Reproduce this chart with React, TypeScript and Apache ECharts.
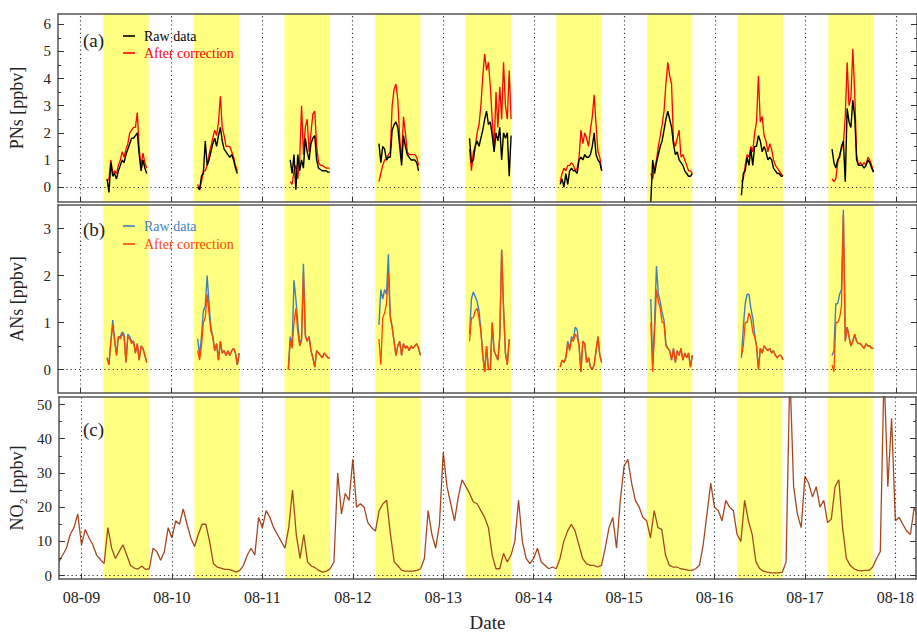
import React, { useEffect, useRef } from "react";
import * as echarts from "echarts";

// ---------- x axis (hours since 08-09 00:00) ----------
const dayLabels = ["08-09", "08-10", "08-11", "08-12", "08-13", "08-14", "08-15", "08-16", "08-17", "08-18"];
const dayTicks = dayLabels.map((_, i) => i * 24);
const xMinHour = -6;
const xMaxHour = 221.5;
const daytimeDays = 9; // 08-09 .. 08-17
const daytimeStart = 6;
const daytimeEnd = 18;

// ---------- NO2 hourly, starting 08-08 18:00 (hour -6) ----------
const no2StartHour = -6;
const no2Eve0808 = [4, 6, 8, 12, 14, 18];
const no2_0809 = [9, 13.5, 11, 9, 6, 4.7, 3.5, 14, 8, 5, 7, 9, 6, 3, 2.2, 1.9, 2.8, 1.8, 2, 8, 7, 4.5, 7, 14];
const no2_0810 = [11, 16, 15, 19.5, 15, 11, 8.5, 12, 15, 15, 10, 3.5, 2.5, 2.2, 1.8, 1.8, 1.5, 1.0, 1.5, 3, 6, 8, 6, 17];
const no2_0811 = [14, 19, 17, 14, 12, 10, 8, 14, 25, 12, 5, 12, 4, 2.8, 2.3, 1.5, 1.0, 1.3, 2, 4, 30, 18, 24, 22];
const no2_0812 = [34, 20, 21, 20, 15.5, 14, 13, 19, 21, 22, 12, 4, 2.8, 1.5, 1.3, 1.3, 1.3, 1.5, 2, 5, 19, 12, 8, 15];
const no2_0813 = [36, 26, 21, 16, 23, 28, 26, 24, 21.5, 21, 19, 17, 14, 6, 2, 2, 6.5, 4, 6, 10, 22, 10, 5, 3.5];
const no2_0814 = [5, 8, 4, 3, 2, 2.5, 2, 5, 10, 13, 15, 13, 9, 5, 3.5, 3, 3, 2.5, 3, 8, 14, 17, 8, 22];
const no2_0815 = [32, 34, 27, 22, 20, 17, 16, 11, 19, 14, 13.5, 6, 3, 2.5, 2.5, 2.0, 1.8, 1.6, 1.5, 2, 3, 9, 18, 27];
const no2_0816 = [20, 19, 16, 22, 20, 19, 12, 10, 22, 16, 12, 4, 2, 1.3, 1, 0.8, 0.8, 0.8, 1, 4, 60, 26, 18, 14];
const no2_0817 = [29, 27, 23, 26, 20, 22, 15.5, 16.5, 26, 28, 14, 5, 3, 2, 1.5, 1.4, 1.5, 1.5, 2.5, 5, 7, 60, 26, 46];
const no2_0818 = [16, 17, 15, 13, 12, 20, 17];

// ---------- PNs (30-min steps during daytime) ----------
const pnsStartHour = [7, 7, 7.5, 7, 7, 7, 7, 7, 7];
const pnsRaw = [
  [0.3, -0.2, 0.9, 0.4, 0.5, 0.3, 0.6, 0.8, 1.0, 0.9, 1.2, 1.4, 1.6, 1.8, 1.8, 1.9, 2.0, 1.2, 0.6, 1.0, 0.7, 0.5],
  [0.0, -0.1, 0.4, 0.5, 1.7, 0.8, 1.0, 1.3, 1.6, 1.8, 1.5, 1.9, 2.2, 1.7, 1.4, 1.3, 1.2, 1.1, 1.2, 1.0, 0.7, 0.5],
  [1.0, 0.5, 1.2, -0.1, 1.2, 0.6, 1.0, 0.7, 1.8, 1.3, 1.0, 1.6, 1.8, 1.9, 1.0, 0.7, 0.65, 0.6, 0.6, 0.6, 0.55, 0.55],
  [1.6, 0.9, 1.5, 1.4, 1.0, 1.1, 1.1, 2.1, 2.3, 2.4, 2.2, 1.5, 0.8, 1.9, 1.5, 1.2, 1.1, 1.0, 1.0, 1.0, 0.9, 0.6],
  [1.8, 0.9, 1.0, 1.5, 1.7, 1.5, 1.8, 2.1, 2.5, 2.8, 2.3, 2.4, 1.9, 1.3, 2.0, 1.7, 2.2, 1.0, 2.0, 1.8, 2.0, 0.4, 1.9],
  [0.1, 0.3, 0.0, 0.5, 0.1, 0.6, 0.7, 0.6, 0.6, 0.5, 1.0, 1.1, 1.0, 1.2, 1.1, 1.1, 1.2, 1.5, 2.0, 1.2, 1.0, 0.9, 0.6],
  [-0.55, 1.0, 0.5, 0.9, 1.2, 1.5, 1.7, 2.1, 2.5, 2.8, 2.5, 2.2, 1.6, 1.2, 1.3, 1.0, 0.9, 0.8, 0.6, 0.5, 0.4, 0.4, 0.5],
  [-0.3, 0.5, 0.6, 1.1, 0.8, 1.4, 0.8, 1.5, 1.5, 1.9, 1.7, 1.3, 1.5, 1.3, 1.0, 1.1, 1.0, 0.7, 0.6, 0.5, 0.5, 0.4, 0.4],
  [1.4, 0.9, 0.7, 1.0, 1.1, 1.5, 1.7, 0.2, 2.9, 2.4, 2.2, 3.2, 2.6, 1.0, 0.8, 0.8, 0.8, 0.7, 0.8, 1.0, 0.9, 0.7, 0.55],
];
const pnsCorr = [
  [0.2, 0.3, 1.0, 0.5, 0.6, 0.5, 0.8, 1.0, 1.3, 1.1, 1.4, 1.6, 2.0, 2.1, 2.2, 2.2, 2.75, 1.4, 0.8, 1.25, 0.9, 0.7],
  [0.1, -0.1, 0.2, 0.6, 0.6, 0.8, 1.2, 1.5, 1.8, 2.1, 1.9, 2.4, 3.35, 2.2, 1.9, 1.5, 1.5, 1.5, 1.3, 1.1, 0.8, 0.6],
  [0.2, 0.1, 0.6, 0.8, 0.3, 1.0, 3.0, 1.2, 2.2, 2.5, 1.3, 2.0, 2.7, 2.8, 1.5, 0.9, 0.8, 0.8, 0.75, 0.7, 0.7, 0.7],
  [0.2, 0.5, 0.8, 1.0, 1.0, 1.2, 1.3, 3.0, 3.6, 3.8, 3.2, 1.8, 1.0, 2.6, 2.0, 1.3, 1.2, 1.2, 1.2, 1.2, 1.1, 0.8],
  [1.4, 0.6, 1.3, 1.5, 2.0, 2.3, 3.0, 4.1, 4.9, 4.3, 4.6, 3.7, 2.5, 1.4, 3.5, 2.2, 3.7, 2.5, 4.6, 3.0, 2.5, 4.3, 2.5],
  [0.2, 0.5, 0.7, 0.6, 0.8, 0.8, 0.9, 0.8, 0.6, 0.7, 1.1, 2.1, 1.6, 2.0, 1.8, 1.5, 2.1, 2.6, 3.4, 2.3, 1.3, 1.1, 0.6],
  [0.5, 0.3, 0.7, 1.0, 1.5, 1.9, 2.3, 2.8, 3.8, 4.6, 4.1, 3.8, 1.7, 1.5, 1.8, 2.1, 1.1, 1.2, 1.0, 0.8, 0.6, 0.6, 0.5],
  [0.2, 0.3, 0.8, 1.2, 1.1, 1.5, 1.3, 2.0, 2.4, 4.1, 2.4, 2.6, 1.9, 1.7, 1.3, 1.6, 1.4, 1.0, 0.8, 0.7, 0.6, 0.5, 0.4],
  [0.3, 0.2, 0.3, 0.9, 1.2, 1.4, 1.6, 2.6, 4.6, 3.0, 3.3, 5.1, 3.5, 1.2, 0.8, 0.9, 0.8, 0.9, 0.8, 1.1, 1.0, 0.8, 0.55],
];

// ---------- ANs (30-min steps during daytime) ----------
const ansStartHour = [7, 7, 7, 7, 7, 7, 7, 7, 7];
const ansRaw = [
  [0.25, 0.1, 0.6, 1.05, 0.65, 0.3, 0.7, 0.7, 0.8, 0.75, 0.15, 0.75, 0.7, 0.6, 0.6, 0.35, 0.55, 0.2, 0.5, 0.45, 0.3, 0.15],
  [0.65, 0.3, 0.7, 1.25, 1.35, 2.0, 1.4, 0.9, 0.7, 0.4, 0.55, 0.2, 0.6, 0.35, 0.4, 0.3, 0.4, 0.3, 0.4, 0.45, 0.35, 0.1, 0.35],
  [0.0, 0.7, 0.5, 1.9, 1.5, 1.0, 0.55, 0.65, 2.25, 0.75, 0.6, 0.7, 0.4, 0.25, 0.05, 0.4, 0.35, 0.3, 0.25, 0.35, 0.3, 0.25, 0.25],
  [0.95, 1.7, 1.5, 1.7, 1.6, 2.45, 1.15, 0.9, 0.6, 0.3, 0.5, 0.6, 0.3, 0.55, 0.45, 0.5, 0.4, 0.5, 0.45, 0.5, 0.55, 0.45, 0.3],
  [0.75, 1.5, 1.65, 1.55, 1.45, 1.25, 0.85, 0.3, -0.05, 0.5, 0.0, 0.0, 1.0, 0.4, 0.3, 0.2, 0.7, 2.55, 1.3, 0.35, 0.1, 0.65],
  [0.05, 0.2, 0.15, 0.25, 0.6, 0.45, 0.7, 0.65, 0.9, 0.85, 0.5, -0.05, 0.6, 0.55, 0.15, 0.25, 0.05, 0.0, 0.1, 0.4, 0.7, 0.3, 0.15],
  [1.5, 0.1, 1.0, 2.2, 1.6, 1.45, 1.2, 1.05, 0.55, 0.45, 0.4, 0.2, 0.45, 0.15, 0.4, 0.3, 0.45, 0.2, 0.35, 0.25, 0.35, 0.05, 0.3],
  [0.25, 0.9, 1.4, 1.6, 1.6, 1.3, 1.1, 0.75, 0.5, 0.0, 0.45, 0.35, 0.5, 0.45, 0.4, 0.45, 0.35, 0.4, 0.3, 0.25, 0.3, 0.3, 0.2],
  [0.3, 0.4, 1.4, 1.4, 1.6, 1.7, 3.4, 0.6, 0.9, 0.7, 0.5, 0.6, 0.75, 0.6, 0.55, 0.55, 0.5, 0.45, 0.55, 0.5, 0.5, 0.45, 0.45],
];
const ansCorr = [
  [0.25, 0.1, 0.6, 0.95, 0.6, 0.3, 0.7, 0.65, 0.75, 0.7, 0.15, 0.7, 0.65, 0.55, 0.6, 0.35, 0.55, 0.2, 0.5, 0.45, 0.3, 0.15],
  [0.4, 0.2, 0.5, 1.0, 1.1, 1.6, 1.2, 0.8, 0.7, 0.4, 0.55, 0.2, 0.6, 0.35, 0.4, 0.3, 0.4, 0.3, 0.4, 0.45, 0.35, 0.1, 0.35],
  [0.0, 0.6, 0.45, 1.0, 1.3, 0.8, 0.5, 0.6, 2.05, 0.7, 0.6, 0.7, 0.4, 0.25, 0.05, 0.4, 0.35, 0.3, 0.25, 0.35, 0.3, 0.25, 0.25],
  [0.65, 0.1, 1.1, 1.2, 1.4, 2.05, 1.1, 0.9, 0.6, 0.3, 0.5, 0.6, 0.3, 0.55, 0.45, 0.5, 0.4, 0.5, 0.45, 0.5, 0.55, 0.45, 0.3],
  [0.6, 1.1, 1.1, 1.25, 1.3, 1.1, 0.8, 0.3, -0.05, 0.5, 0.0, 0.0, 1.0, 0.4, 0.3, 0.2, 0.7, 2.55, 1.3, 0.35, 0.1, 0.65],
  [0.05, 0.2, 0.15, 0.25, 0.55, 0.4, 0.65, 0.6, 0.75, 0.7, 0.5, -0.05, 0.6, 0.55, 0.15, 0.25, 0.05, 0.0, 0.1, 0.4, 0.7, 0.3, 0.15],
  [1.0, -0.05, 0.8, 1.7, 1.45, 1.3, 1.0, 1.0, 0.5, 0.45, 0.4, 0.2, 0.45, 0.15, 0.4, 0.3, 0.45, 0.2, 0.35, 0.25, 0.35, 0.05, 0.3],
  [0.3, 0.5, 1.0, 1.0, 1.2, 1.1, 0.8, 0.7, 0.5, 0.0, 0.45, 0.35, 0.5, 0.45, 0.4, 0.45, 0.35, 0.4, 0.3, 0.25, 0.3, 0.3, 0.2],
  [0.1, -0.05, 1.0, 1.0, 1.1, 1.35, 3.3, 0.6, 0.9, 0.7, 0.5, 0.6, 0.75, 0.6, 0.55, 0.55, 0.5, 0.45, 0.55, 0.5, 0.5, 0.45, 0.45],
];
const halfHourStep = 0.5;

// ---------- y axes ----------
const pnsTicks = [0, 1, 2, 3, 4, 5, 6];
const pnsMinor = [0.5, 1.5, 2.5, 3.5, 4.5, 5.5];
const ansTicks = [0, 1, 2, 3];
const ansMinor = [0.5, 1.5, 2.5];
const no2Ticks = [0, 10, 20, 30, 40, 50];
const no2Minor = [5, 15, 25, 35, 45];

const FONT = '"Liberation Serif", "DejaVu Serif", serif';

function buildDaily(starts: number[], values: number[][]) {
  const out: any[] = [];
  values.forEach((arr, d) => {
    arr.forEach((v, i) => out.push([d * 24 + starts[d] + i * halfHourStep, v]));
    out.push([d * 24 + starts[d] + arr.length * halfHourStep, null]);
  });
  return out;
}

function buildNo2() {
  const all = [
    ...no2Eve0808, ...no2_0809, ...no2_0810, ...no2_0811, ...no2_0812,
    ...no2_0813, ...no2_0814, ...no2_0815, ...no2_0816, ...no2_0817, ...no2_0818,
  ];
  return all.map((v, i) => [no2StartHour + i, v]);
}

export default function App() {
  const ref = useRef<HTMLDivElement>(null);
  useEffect(() => {
    if (!ref.current) return;
    const chart = echarts.init(ref.current, null, { renderer: "svg" });

    const grids = [
      { left: 58, top: 14, width: 859, height: 188 },
      { left: 58, top: 205, width: 859, height: 188 },
      { left: 58, top: 397, width: 859, height: 186 },
    ];
    const yRanges = [
      { min: -0.55, max: 6.38, major: pnsTicks, minor: pnsMinor, name: "PNs [ppbv]" },
      { min: -0.5, max: 3.5, major: ansTicks, minor: ansMinor, name: "ANs [ppbv]" },
      { min: -1, max: 52.2, major: no2Ticks, minor: no2Minor, name: "NO\u2082 [ppbv]" },
    ];
    const frameLine = { color: "#555", width: 1.5 };

    const xAxis: any[] = [];
    const yAxis: any[] = [];
    grids.forEach((_, i) => {
      xAxis.push({
        type: "value", gridIndex: i, min: xMinHour, max: xMaxHour, position: "bottom", z: 10,
        axisLine: { show: true, onZero: false, lineStyle: frameLine },
        axisTick: { show: true, inside: true, length: 5, customValues: dayTicks, lineStyle: { color: "#333" } },
        axisLabel: {
          show: i === 2, customValues: dayTicks, margin: 10,
          formatter: (v: number) => dayLabels[Math.round(v / 24)] ?? "",
          fontSize: 16, color: "#222", fontFamily: FONT,
        },
        splitLine: { show: false },
        name: i === 2 ? "Date" : "", nameLocation: "middle", nameGap: 34,
        nameTextStyle: { fontSize: 19, color: "#222", fontFamily: FONT },
      });
      xAxis.push({
        type: "value", gridIndex: i, min: xMinHour, max: xMaxHour, position: "top", z: 10,
        axisLine: { show: true, onZero: false, lineStyle: frameLine },
        axisTick: { show: false }, axisLabel: { show: false }, splitLine: { show: false },
      });
    });
    yRanges.forEach((r, i) => {
      const base = { type: "value", gridIndex: i, min: r.min, max: r.max, z: 10, splitLine: { show: false } };
      yAxis.push({
        ...base, position: "left",
        axisLine: { show: true, onZero: false, lineStyle: frameLine },
        axisTick: { show: true, inside: true, length: 6, customValues: r.major, lineStyle: { color: "#333" } },
        axisLabel: { show: true, customValues: r.major, margin: 7, fontSize: 15, color: "#222", fontFamily: FONT },
        name: r.name, nameLocation: "middle", nameGap: 32,
        nameTextStyle: { fontSize: 18, color: "#222", fontFamily: FONT },
      });
      yAxis.push({
        ...base, position: "left",
        axisLine: { show: false, onZero: false },
        axisTick: { show: true, inside: true, length: 3, customValues: r.minor, lineStyle: { color: "#333" } },
        axisLabel: { show: false },
      });
      yAxis.push({
        ...base, position: "right",
        axisLine: { show: true, onZero: false, lineStyle: frameLine },
        axisTick: { show: true, inside: true, length: 6, customValues: r.major, lineStyle: { color: "#333" } },
        axisLabel: { show: false },
      });
      yAxis.push({
        ...base, position: "right",
        axisLine: { show: false, onZero: false },
        axisTick: { show: true, inside: true, length: 3, customValues: r.minor, lineStyle: { color: "#333" } },
        axisLabel: { show: false },
      });
    });

    const bands: any[] = [];
    for (let d = 0; d < daytimeDays; d++) {
      bands.push([{ xAxis: d * 24 + daytimeStart }, { xAxis: d * 24 + daytimeEnd }]);
    }
    const guideLines = [...dayTicks.map((t) => ({ xAxis: t })), { yAxis: 0 }];

    const series: any[] = [];
    grids.forEach((_, i) => {
      series.push({
        type: "line", xAxisIndex: i * 2, yAxisIndex: i * 4, data: [], z: 1, silent: true,
        markArea: { silent: true, itemStyle: { color: "#ffff80", opacity: 1 }, data: bands },
        markLine: {
          silent: true, symbol: "none", label: { show: false },
          lineStyle: { type: [1.2, 3], color: "#333", width: 1.1 },
          data: guideLines,
        },
      });
    });
    const lineBase = { type: "line", showSymbol: false, symbol: "none", connectNulls: false, silent: true, z: 3 };
    series.push({ ...lineBase, name: "PNs corr", xAxisIndex: 0, yAxisIndex: 0, data: buildDaily(pnsStartHour, pnsCorr), lineStyle: { color: "#ff0000", width: 1.3 } });
    series.push({ ...lineBase, name: "PNs raw", xAxisIndex: 0, yAxisIndex: 0, data: buildDaily(pnsStartHour, pnsRaw), lineStyle: { color: "#000000", width: 1.4 } });
    series.push({ ...lineBase, name: "ANs raw", xAxisIndex: 2, yAxisIndex: 4, data: buildDaily(ansStartHour, ansRaw), lineStyle: { color: "#3f7fc0", width: 1.4 } });
    series.push({ ...lineBase, name: "ANs corr", xAxisIndex: 2, yAxisIndex: 4, data: buildDaily(ansStartHour, ansCorr), lineStyle: { color: "#ff4500", width: 1.3 } });
    series.push({ ...lineBase, name: "NO2", xAxisIndex: 4, yAxisIndex: 8, data: buildNo2(), lineStyle: { color: "#a5481f", width: 1.3 } });

    const txt = (x: number, y: number, text: string, size: number, fill: string) => ({
      type: "text", x, y, z: 20,
      style: { text, fontSize: size, fontFamily: FONT, fill, verticalAlign: "middle", align: "left" },
    });
    const seg = (y: number, color: string) => ({
      type: "line", z: 20, shape: { x1: 123, y1: y, x2: 135, y2: y }, style: { stroke: color, lineWidth: 1.6 },
    });

    const option: any = {
      animation: false,
      backgroundColor: "#ffffff",
      textStyle: { fontFamily: FONT },
      grid: grids.map((g) => ({ ...g, containLabel: false })),
      xAxis, yAxis, series,
      graphic: [
        txt(83, 40, "(a)", 19, "#222"),
        seg(36, "#000000"), txt(144, 36, "Raw data", 14, "#000000"),
        seg(53, "#ff0000"), txt(144, 53, "After correction", 14, "#ff0000"),
        txt(83, 229, "(b)", 19, "#222"),
        seg(226, "#3f7fc0"), txt(144, 226, "Raw data", 14, "#3f7fc0"),
        seg(244, "#ff4500"), txt(144, 244, "After correction", 14, "#ff4500"),
        txt(83, 429, "(c)", 19, "#222"),
      ],
    };
    chart.setOption(option);
    return () => chart.dispose();
  }, []);
  return <div ref={ref} style={{ position: "fixed", left: 0, top: 0, width: 917, height: 633 }} />;
}
